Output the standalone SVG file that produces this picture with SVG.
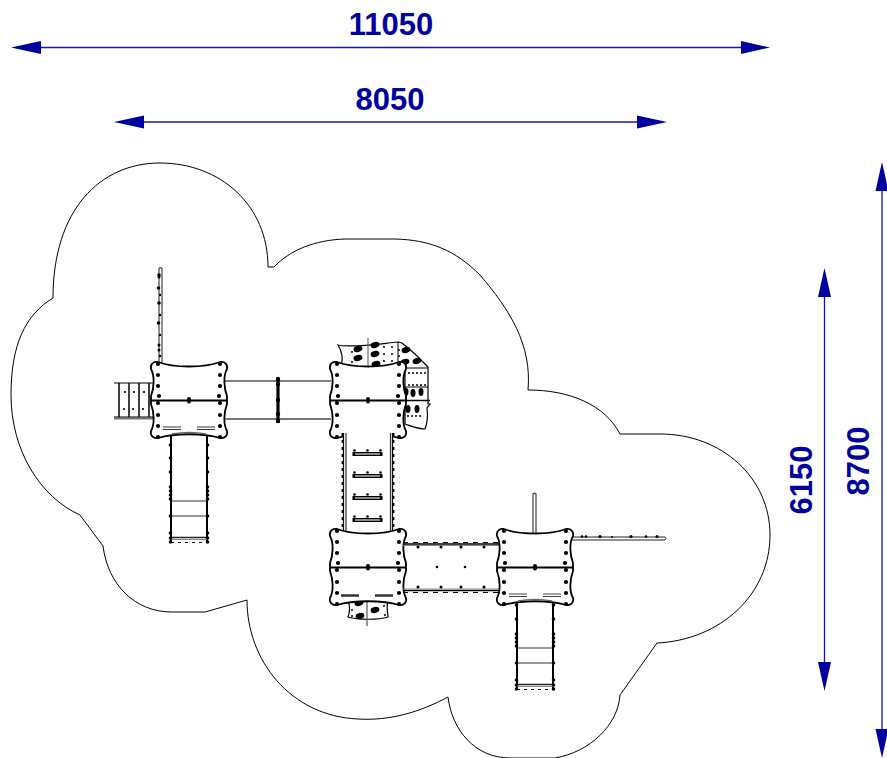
<svg xmlns="http://www.w3.org/2000/svg" xmlns:xlink="http://www.w3.org/1999/xlink" width="887" height="758" viewBox="0 0 887 758">
<style>
.dim{stroke:#1414a6;stroke-width:1.300;fill:none}
.arr{fill:#0000a0;stroke:none}
.t{font-family:"Liberation Sans",Arial,sans-serif;font-weight:bold;font-size:31px;fill:#0000a0;text-anchor:middle}
.o{fill:none;stroke:#000;stroke-width:1}
.p{fill:#fff;stroke:#000;stroke-width:1.800}
.k{fill:none;stroke:#000;stroke-width:1.500}
.g{fill:none;stroke:#777;stroke-width:2}
.d{fill:#000;stroke:none}
</style>
<defs>
<g id="deck">
<path class="p" d="M-31,-38 C-15,-32 15,-32 31,-38 C36,-39 39,-35 38,-31 C34,-24 35,-12 38,-4 L38,4 C35,12 34,24 38,31 C39,35 36,39 31,38 C15,33 -15,33 -31,38 C-36,39 -39,35 -38,31 C-34,24 -35,12 -38,4 L-38,-4 C-35,-12 -34,-24 -38,-31 C-39,-35 -36,-39 -31,-38 Z"/>
<path d="M-38,0.500 H38" fill="none" stroke="#000" stroke-width="2.200"/>
<g class="d">
<circle cx="-31" cy="-36" r="2.100"/><circle cx="-31" cy="-25" r="2.100"/><circle cx="-31" cy="-14" r="2.100"/><circle cx="-30" cy="-4" r="2.100"/><circle cx="-31" cy="3" r="2.100"/><circle cx="-31" cy="15" r="2.100"/><circle cx="-31" cy="26" r="2.100"/><circle cx="-31" cy="37" r="2.100"/>
<circle cx="31" cy="-36" r="2.100"/><circle cx="31" cy="-25" r="2.100"/><circle cx="31" cy="-14" r="2.100"/><circle cx="30" cy="-4" r="2.100"/><circle cx="31" cy="3" r="2.100"/><circle cx="31" cy="15" r="2.100"/><circle cx="31" cy="26" r="2.100"/><circle cx="31" cy="37" r="2.100"/>
<circle cx="0" cy="-1" r="2"/><circle cx="0" cy="1.500" r="2"/>
</g>
</g>
<g id="slide">
<rect x="-18" y="0" width="36" height="107" fill="#fff"/>
<path d="M-18,0 V110 M18,0 V110" fill="none" stroke="#000" stroke-width="2"/>
<path d="M-18,68 H18 M-18,83 H18" fill="none" stroke="#333" stroke-width="1"/>
<path d="M-18,104.500 H18" stroke="#222" stroke-width="1.500" fill="none"/>
<path d="M-18,106.500 H18" stroke="#888" stroke-width="1" fill="none"/>
<path d="M-18,109.500 H18" stroke="#000" stroke-width="1" stroke-dasharray="3 4" fill="none"/>
<g class="d">
<circle cx="-18.500" cy="12" r="1.800"/><circle cx="-18.500" cy="25" r="1.800"/><circle cx="-18.500" cy="39" r="1.800"/><circle cx="-18.500" cy="54" r="1.800"/><circle cx="-18.500" cy="58" r="1.800"/><circle cx="-18.500" cy="62" r="1.800"/><circle cx="-18.500" cy="66" r="1.800"/><circle cx="-18.500" cy="83" r="1.800"/><circle cx="-18.500" cy="100" r="1.800"/><circle cx="-18.500" cy="105" r="1.800"/><circle cx="-18.500" cy="109" r="1.800"/>
<circle cx="18.500" cy="12" r="1.800"/><circle cx="18.500" cy="25" r="1.800"/><circle cx="18.500" cy="39" r="1.800"/><circle cx="18.500" cy="54" r="1.800"/><circle cx="18.500" cy="58" r="1.800"/><circle cx="18.500" cy="62" r="1.800"/><circle cx="18.500" cy="66" r="1.800"/><circle cx="18.500" cy="83" r="1.800"/><circle cx="18.500" cy="100" r="1.800"/><circle cx="18.500" cy="105" r="1.800"/><circle cx="18.500" cy="109" r="1.800"/>
</g>
</g>
<g id="rung">
<path d="M-14,-1.500 H14 M-14,1.500 H14" fill="none" stroke="#000" stroke-width="1"/>
<rect x="-14" y="-1" width="28" height="2" fill="#888"/>
<g class="d"><circle cx="-13" cy="-3.500" r="1.300"/><circle cx="0" cy="-3.500" r="1.300"/><circle cx="13" cy="-3.500" r="1.300"/><rect x="-15" y="-2" width="2.500" height="4"/><rect x="12.500" y="-2" width="2.500" height="4"/></g>
</g>
<ellipse id="hole" cx="0" cy="0" rx="4.500" ry="3" transform="rotate(-15)"/>
<ellipse id="vhole" cx="0" cy="0" rx="2.500" ry="4"/>
</defs>

<path id="site-outline" class="o" d="M268,267 C268,205 220,163 160,163 C100,163 53,210 53,298 C25,315 11,345 11,395 C11,450 40,497 80,515 L103,546 C108,585 135,612 172,612 H205 L247,600 C247,660 290,716 358,719 C390,721 420,712 448,697 C452,730 475,758 510,758 H555 C590,752 618,725 620,695 L657,643 C720,640 770,595 770,535 C770,478 722,434 660,434 H620 C605,405 570,390 528,390 C532,345 510,310 480,275 C455,250 430,240 395,239 H345 C315,240 290,250 274,267 Z"/>

<g id="dimensions">
<path class="dim" d="M20,47.500 H760 M125,122 H655 M824.500,280 V680 M882,172 V748"/>
<path class="arr" d="M11,47.500 L41,41 V54 Z M770,47.500 L741,41 V54 Z M114,122 L144,115.500 V128.500 Z M667,122 L637,115.500 V128.500 Z M824.500,268 L818,297 H831 Z M824.500,691 L818,662 H831 Z M882,162 L875.500,191 H888.500 Z M882,758 L875.500,729 H888.500 Z"/>
<text class="t" x="391" y="35">11050</text>
<text class="t" x="390" y="110">8050</text>
<text class="t" transform="translate(812,480) rotate(-90)">6150</text>
<text class="t" transform="translate(869,461) rotate(-90)">8700</text>
</g>

<g id="tower-a">
<path d="M159,364 V268.500 Q160.500,267 162,268.500 V364" fill="#fff" stroke="#444" stroke-width="1.200"/>
<g class="d"><circle cx="159" cy="275" r="1.800"/><circle cx="159" cy="277" r="1.500"/><circle cx="158.500" cy="288" r="1.800"/><circle cx="159" cy="303" r="1.800"/><circle cx="158.500" cy="323" r="1.800"/><circle cx="159" cy="345" r="1.500"/><circle cx="159" cy="350" r="1.500"/><circle cx="160" cy="295" r="1.200"/><circle cx="160" cy="315" r="1.200"/><circle cx="160" cy="335" r="1.200"/><circle cx="160" cy="356" r="1.200"/></g>
<path d="M114,418.500 H153" class="g"/>
<path d="M114,383 H153 M114,417 H153" fill="none" stroke="#000" stroke-width="1"/>
<path d="M119,383 V417 M129,383 V417 M139,383 V417 M149,383 V417" fill="none" stroke="#000" stroke-width="1.500"/>
<g class="d"><circle cx="125" cy="392" r="1.100"/><circle cx="134" cy="392" r="1.100"/><circle cx="144" cy="392" r="1.100"/><circle cx="124" cy="409" r="1.100"/><circle cx="133" cy="409" r="1.100"/><circle cx="143" cy="409" r="1.100"/></g>
<use xlink:href="#slide" href="#slide" x="189" y="433"/>
<use xlink:href="#deck" href="#deck" x="189" y="400"/>
<path d="M172,434 Q189,431 206,434" fill="none" stroke="#666" stroke-width="1.500"/>
<path d="M163,427 H181 M163,429.500 H181 M197,427 H215 M197,429.500 H215" fill="none" stroke="#333" stroke-width="1"/>
</g>

<g id="bridge-ab">
<path d="M225,381 H331" fill="none" stroke="#000" stroke-width="1"/>
<path d="M225,419 H331" class="g"/>
<path d="M278,378 V423" fill="none" stroke="#000" stroke-width="3.200"/>
<g class="d"><circle cx="278" cy="379" r="2.200"/><circle cx="278" cy="384" r="2.200"/><circle cx="278" cy="400" r="2.200"/><circle cx="278" cy="414" r="2.200"/><circle cx="278" cy="421" r="2.200"/></g>
</g>

<g id="tower-b">
<path d="M338,345 C352,348 378,344 398,342 L402,343 L415,354 L428,367 V404 H430 L427,408 C428,416 427,424 425,429 C418,429 411,426 405,424 V365 H404 L340,368 C344,360 342,351 338,345 Z" fill="#fff" stroke="#000" stroke-width="1.200"/>
<path d="M398,342 V366 M404,368 H428 M405,387 H428" fill="none" stroke="#000" stroke-width="1"/>
<g class="d">
<use xlink:href="#hole" href="#hole" x="358" y="349"/><use xlink:href="#hole" href="#hole" x="358" y="358"/><use xlink:href="#hole" href="#hole" x="375" y="345"/><use xlink:href="#hole" href="#hole" x="375" y="354"/><use xlink:href="#hole" href="#hole" x="376" y="364"/><use xlink:href="#hole" href="#hole" x="406" y="350"/><use xlink:href="#hole" href="#hole" x="417" y="361"/><use xlink:href="#hole" href="#hole" x="405" y="362"/>
<use xlink:href="#vhole" href="#vhole" x="406" y="392"/><use xlink:href="#vhole" href="#vhole" x="413" y="393"/><use xlink:href="#vhole" href="#vhole" x="421" y="392"/><use xlink:href="#vhole" href="#vhole" x="408" y="409"/><use xlink:href="#vhole" href="#vhole" x="417" y="409"/>
<circle cx="352" cy="352" r="1"/><circle cx="352" cy="362" r="1"/><circle cx="384" cy="347" r="1"/><circle cx="384" cy="354" r="1"/><circle cx="384" cy="361" r="1"/><circle cx="392" cy="347" r="1"/><circle cx="392" cy="354" r="1"/><circle cx="392" cy="361" r="1"/><circle cx="399" cy="350" r="1"/><circle cx="399" cy="356" r="1"/>
<circle cx="409" cy="373" r="1"/><circle cx="413" cy="373" r="1"/><circle cx="417" cy="373" r="1"/><circle cx="421" cy="373" r="1"/><circle cx="425" cy="373" r="1"/><circle cx="409" cy="385" r="1"/><circle cx="413" cy="385" r="1"/><circle cx="417" cy="385" r="1"/><circle cx="421" cy="385" r="1"/><circle cx="425" cy="385" r="1"/><circle cx="408" cy="416" r="1"/><circle cx="412" cy="416" r="1"/><circle cx="416" cy="416" r="1"/><circle cx="420" cy="416" r="1"/>
</g>
<path d="M368,338 V400" fill="none" stroke="#555" stroke-width="1"/>
<path d="M404,400.500 H430" fill="none" stroke="#000" stroke-width="1.500"/>
<use xlink:href="#deck" href="#deck" x="368" y="400"/>
</g>

<g id="ramp-bc">
<rect x="343" y="433" width="50" height="100" fill="#fff"/>
<path d="M343.500,433 V533 M392.500,433 V533" fill="none" stroke="#000" stroke-width="1.200"/>
<path d="M346,433 V533 M390.500,433 V533" fill="none" stroke="#333" stroke-width="1.200"/>
<path d="M342.500,433 V533 M393.500,433 V533" fill="none" stroke="#000" stroke-width="1.800" stroke-dasharray="3 4"/>
<use xlink:href="#rung" href="#rung" x="367.500" y="454"/>
<use xlink:href="#rung" href="#rung" x="367.500" y="476"/>
<use xlink:href="#rung" href="#rung" x="367.500" y="498"/>
<use xlink:href="#rung" href="#rung" x="367.500" y="520"/>
</g>

<g id="tower-c">
<path d="M348,600 H388 C386,608 388,614 388,617 C378,620 358,620 348,617 C350,612 350,606 348,600 Z" fill="#fff" stroke="#000" stroke-width="1.200"/>
<g class="d"><use xlink:href="#hole" href="#hole" x="359" y="603"/><use xlink:href="#hole" href="#hole" x="375" y="610"/><use xlink:href="#hole" href="#hole" x="360" y="616"/><circle cx="352" cy="610" r="1"/><circle cx="352" cy="616" r="1"/><circle cx="384" cy="606" r="1"/><circle cx="385" cy="615" r="1"/></g>
<path d="M367,600 V626" fill="none" stroke="#555" stroke-width="1.200"/>
<use xlink:href="#deck" href="#deck" x="368" y="567"/>
<path d="M341,595.500 H359 M375,595.500 H393" fill="none" stroke="#333" stroke-width="2.500"/>
</g>

<g id="bridge-cd">
<path d="M403,544 H499 M403,590.500 H499" fill="none" stroke="#000" stroke-width="1.500"/>
<path d="M403,545.500 H499 M403,589 H499" fill="none" stroke="#888" stroke-width="1"/>
<path d="M403,542.500 H499 M403,592.500 H499" fill="none" stroke="#000" stroke-width="1.200" stroke-dasharray="5 5"/>
<g class="d"><circle cx="418" cy="547" r="1.500"/><circle cx="441" cy="547" r="1.500"/><circle cx="461" cy="547" r="1.500"/><circle cx="484" cy="547" r="1.500"/><circle cx="418" cy="587" r="1.500"/><circle cx="441" cy="587" r="1.500"/><circle cx="461" cy="587" r="1.500"/><circle cx="484" cy="587" r="1.500"/><circle cx="437" cy="567" r="1.300"/><circle cx="465" cy="567" r="1.300"/></g>
</g>

<g id="tower-d">
<path d="M533,533 V494 Q534.500,492.500 536,494 V533" fill="#fff" stroke="#444" stroke-width="1.200"/>
<path d="M525,533 Q534.500,535 545,533" fill="none" stroke="#666" stroke-width="1.500"/>
<path d="M571,537 H665 Q667,538.500 665,540 H571" fill="#fff" stroke="#222" stroke-width="1"/>
<g class="d"><circle cx="582" cy="536.500" r="1.300"/><circle cx="586" cy="536.500" r="1.300"/><circle cx="600" cy="536.500" r="1.600"/><circle cx="612" cy="537" r="1"/><circle cx="631" cy="536.500" r="1.600"/><circle cx="646" cy="536.500" r="1.300"/><circle cx="657" cy="536.500" r="1.500"/></g>
<use xlink:href="#slide" href="#slide" x="535" y="580"/>
<use xlink:href="#deck" href="#deck" x="535" y="567"/>
<path d="M518,601 Q535,598 552,601" fill="none" stroke="#666" stroke-width="1.500"/>
<path d="M509,594 H527 M509,596.500 H527 M543,594 H561 M543,596.500 H561" fill="none" stroke="#444" stroke-width="1"/>
</g>
</svg>
